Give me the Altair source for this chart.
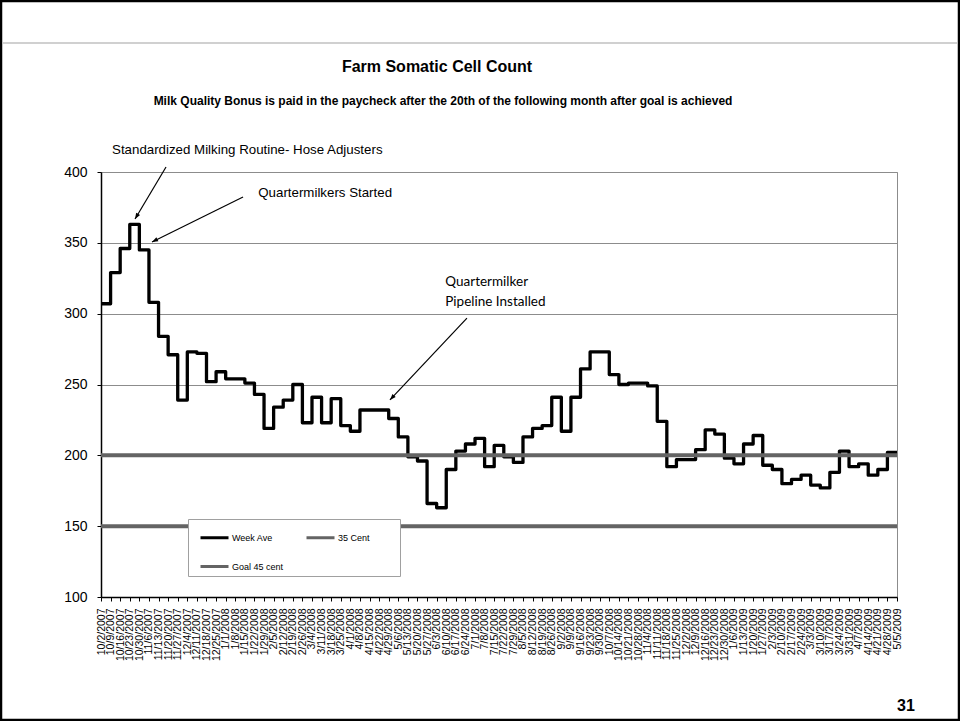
import json
import math

import altair as alt
import pandas as pd

FONT = "Liberation Sans"
PLOT_W, PLOT_H = 796, 425
LEFT, TOP = 101, 172

# Week starting dates (tick labels)
week_labels = [
    "10/2/2007", "10/9/2007", "10/16/2007", "10/23/2007", "10/30/2007", "11/6/2007",
    "11/13/2007", "11/20/2007", "11/27/2007", "12/4/2007", "12/11/2007", "12/18/2007",
    "12/25/2007", "1/1/2008", "1/8/2008", "1/15/2008", "1/22/2008", "1/29/2008",
    "2/5/2008", "2/12/2008", "2/19/2008", "2/26/2008", "3/4/2008", "3/11/2008",
    "3/18/2008", "3/25/2008", "4/1/2008", "4/8/2008", "4/15/2008", "4/22/2008",
    "4/29/2008", "5/6/2008", "5/13/2008", "5/20/2008", "5/27/2008", "6/3/2008",
    "6/10/2008", "6/17/2008", "6/24/2008", "7/1/2008", "7/8/2008", "7/15/2008",
    "7/22/2008", "7/29/2008", "8/5/2008", "8/12/2008", "8/19/2008", "8/26/2008",
    "9/2/2008", "9/9/2008", "9/16/2008", "9/23/2008", "9/30/2008", "10/7/2008",
    "10/14/2008", "10/21/2008", "10/28/2008", "11/4/2008", "11/11/2008", "11/18/2008",
    "11/25/2008", "12/2/2008", "12/9/2008", "12/16/2008", "12/23/2008", "12/30/2008",
    "1/6/2009", "1/13/2009", "1/20/2009", "1/27/2009", "2/3/2009", "2/10/2009",
    "2/17/2009", "2/24/2009", "3/3/2009", "3/10/2009", "3/17/2009", "3/24/2009",
    "3/31/2009", "4/7/2009", "4/14/2009", "4/21/2009", "4/28/2009", "5/5/2009",
]

# Weekly average somatic cell count (thousands)
week_ave = [
    307, 329, 346, 363, 345, 308, 284, 271, 239, 273, 272, 252,
    259, 254, 254, 251, 243, 219, 234, 239, 250, 223, 241, 223,
    240, 221, 217, 232, 232, 232, 226, 213, 199, 196, 166, 163,
    190, 203, 208, 212, 192, 207, 199, 195, 213, 219, 221, 241,
    217, 241, 261, 273, 273, 257, 250, 251, 251, 249, 224, 192,
    197, 197, 204, 218, 215, 198, 194, 208, 214, 193, 190, 180,
    183, 186, 179, 177, 188, 203, 192, 194, 186, 190, 202, 202,
]

# Bonus threshold lines
limit_names = ["35 Cent", "Goal 45 cent"]
limit_levels = [200, 150]

series_names = ["Week Ave", "35 Cent", "Goal 45 cent"]
series_colors = ["#000000", "#646464", "#646464"]

# Event annotations: text position (week index, value)
note_texts = ["Standardized Milking Routine- Hose Adjusters", "Quartermilkers Started"]
note_week = [1.15, 16.4]
note_value = [415.5, 385.2]
pipeline_texts = ["Quartermilker", "Pipeline Installed"]
pipeline_week = [35.9, 35.9]
pipeline_value = [322.4, 308.2]

# Arrows: start (week, value) -> tip (week, value)
arrow_start_w = [6.78, 14.81, 38.16]
arrow_start_v = [403.5, 382.4, 296.9]
arrow_tip_w = [3.55, 5.32, 30.13]
arrow_tip_v = [366.8, 350.6, 239.1]

n_weeks = len(week_labels)
series_df = pd.DataFrame({
    "week": list(range(n_weeks)),
    "scc": week_ave,
    "series": ["Week Ave"] * n_weeks,
})
limits_df = pd.DataFrame({"series": limit_names, "scc": limit_levels})
notes_df = pd.DataFrame({"text": note_texts, "week": note_week, "scc": note_value})
pipeline_df = pd.DataFrame({"text": pipeline_texts, "week": pipeline_week, "scc": pipeline_value})

arrow_rows = []
head_rows = []
px_per_week = PLOT_W / (n_weeks - 1)
px_per_unit = PLOT_H / 300.0
for i in range(len(arrow_tip_w)):
    arrow_rows.append({"arrow": i, "ord": 0, "week": arrow_start_w[i], "scc": arrow_start_v[i]})
    arrow_rows.append({"arrow": i, "ord": 1, "week": arrow_tip_w[i], "scc": arrow_tip_v[i]})
    dx = (arrow_tip_w[i] - arrow_start_w[i]) * px_per_week
    dy = -(arrow_tip_v[i] - arrow_start_v[i]) * px_per_unit
    ang = math.degrees(math.atan2(dx, -dy)) % 360
    head_rows.append({"week": arrow_tip_w[i], "scc": arrow_tip_v[i], "angle": ang})
arrows_df = pd.DataFrame(arrow_rows)
heads_df = pd.DataFrame(head_rows)

x_scale = alt.Scale(domain=[0, n_weeks - 1], nice=False, zero=False)
y_scale = alt.Scale(domain=[100, 400], nice=False, zero=False)

x_axis = alt.Axis(
    values=list(range(n_weeks)),
    labelExpr=json.dumps(week_labels) + "[datum.value]",
    labelAngle=-90, labelAlign="right", labelBaseline="middle",
    labelFont=FONT, labelFontSize=10.5, labelColor="black",
    labelOverlap=False, labelFlush=False, labelPadding=7,
    tickSize=4, tickColor="black", domainColor="black", domainWidth=1.5,
    grid=False, title=None,
)
y_axis = alt.Axis(
    values=[100, 150, 200, 250, 300, 350, 400],
    labelFont=FONT, labelFontSize=14, labelColor="black", labelPadding=10,
    tickSize=4, tickColor="black", domainColor="black", domainWidth=1.5,
    grid=True, gridColor="#8c8c8c", gridWidth=1, title=None,
)


def X(field):
    return alt.X(f"{field}:Q", scale=x_scale, axis=x_axis, title=None)


def Y(field):
    return alt.Y(f"{field}:Q", scale=y_scale, axis=y_axis, title=None)


# Legend box: two columns, blank title on the right keeps the box wide
color = alt.Color(
    "series:N",
    scale=alt.Scale(domain=series_names, range=series_colors),
    legend=alt.Legend(
        title="\u00a0", titleOrient="right", titlePadding=27, titleFontSize=9,
        orient="none", legendX=87, legendY=347, direction="horizontal",
        columns=2, gridAlign="all", symbolType="stroke", symbolSize=784,
        symbolStrokeWidth=3, symbolOffset=8, labelFont=FONT, labelFontSize=9,
        labelColor="black", labelOffset=2, fillColor="white", strokeColor="#a0a0a0",
        padding=3, rowPadding=7, columnPadding=13,
    ),
)

line = alt.Chart(series_df).mark_line(
    interpolate="step-after", strokeWidth=3.3, strokeJoin="round"
).encode(x=X("week"), y=Y("scc"), color=color)

limits = alt.Chart(limits_df).mark_rule(strokeWidth=4).encode(y=Y("scc"), color=color)

arrow_lines = alt.Chart(arrows_df).mark_line(color="black", strokeWidth=1.2).encode(
    x=X("week"), y=Y("scc"), detail="arrow:N", order="ord:Q"
)
arrow_heads = alt.Chart(heads_df).mark_point(
    shape="M0,0L-0.75,2L0.75,2Z", filled=True, fill="black", size=36, opacity=1
).encode(x=X("week"), y=Y("scc"), angle=alt.Angle("angle:Q", scale=None))

notes = alt.Chart(notes_df).mark_text(
    align="left", baseline="middle", font=FONT, fontSize=13.3, color="black"
).encode(x=X("week"), y=Y("scc"), text="text:N")

pipeline_notes = alt.Chart(pipeline_df).mark_text(
    align="left", baseline="middle", font="Lato", fontSize=13.5, color="black"
).encode(x=X("week"), y=Y("scc"), text="text:N")

# Slide furniture: frame, header rule, titles, page number
one = pd.DataFrame({"k": [0]})
frame = alt.Chart(one).mark_rect(fillOpacity=0, stroke="black", strokeWidth=2.5).encode(
    x=alt.value(1 - LEFT), x2=alt.value(959 - LEFT),
    y=alt.value(1 - TOP), y2=alt.value(720 - TOP),
)
header_rule = alt.Chart(one).mark_rule(color="#c0c0c0", strokeWidth=1.5).encode(
    x=alt.value(2 - LEFT), x2=alt.value(958 - LEFT), y=alt.value(43 - TOP)
)
title = alt.Chart(one).mark_text(
    text="Farm Somatic Cell Count", font=FONT, fontSize=16, fontWeight="bold", color="black"
).encode(x=alt.value(437 - LEFT), y=alt.value(67 - TOP))
subtitle = alt.Chart(one).mark_text(
    text="Milk Quality Bonus is paid in the paycheck after the 20th of the following month after goal is achieved",
    font=FONT, fontSize=12, fontWeight="bold", color="black",
).encode(x=alt.value(443 - LEFT), y=alt.value(101 - TOP))
page_no = alt.Chart(one).mark_text(
    text="31", font=FONT, fontSize=16, fontWeight="bold", color="black"
).encode(x=alt.value(906 - LEFT), y=alt.value(706 - TOP))

chart = alt.layer(
    frame, header_rule, title, subtitle, page_no,
    line, limits, arrow_lines, arrow_heads, notes, pipeline_notes,
).properties(
    width=PLOT_W, height=PLOT_H, background="white",
    padding={"left": LEFT, "top": TOP, "right": 960 - LEFT - PLOT_W, "bottom": 721 - TOP - PLOT_H},
    autosize=alt.AutoSizeParams(type="none"),
).configure_view(
    stroke="#8c8c8c", strokeWidth=1
)

chart.save("out.html", embed_options={"renderer": "svg", "actions": False})
